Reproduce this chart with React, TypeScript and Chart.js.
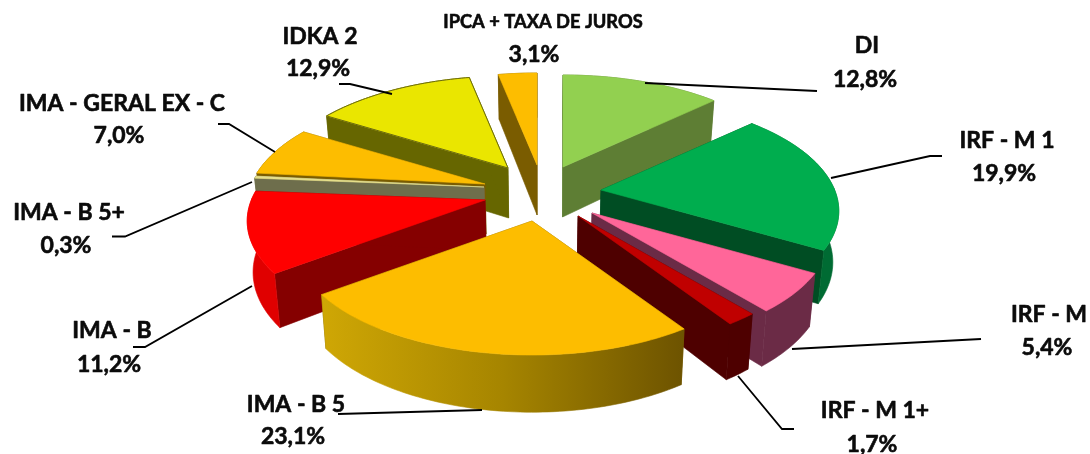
import React, { useEffect, useRef } from "react";
import { Chart, registerables } from "chart.js";

Chart.register(...registerables);

const categories = [
  "DI",
  "IRF - M 1",
  "IRF - M",
  "IRF - M 1+",
  "IMA - B 5",
  "IMA - B",
  "IMA - B 5+",
  "IMA - GERAL EX - C",
  "IDKA 2",
  "IPCA + TAXA DE JUROS",
];
const shares = [12.8, 19.9, 5.4, 1.7, 23.1, 11.2, 0.3, 7.0, 12.9, 3.1];

const topColors = ["#92D050", "#00AD4E", "#FF6699", "#C00000", "#FDBD00", "#FF0000", "#E6DF8A", "#FDBD00", "#EAE600", "#FDBD00"];
const cutColors = ["#5E7E34", "#004D23", "#6B2B46", "#4E0000", "#7A5C00", "#850000", "#6E6E4C", "#7A5C00", "#666600", "#7A5C00"];
const rimColors = ["#5E7E34", "#006B33", "#6B2B46", "#4E0000", "#B8950A", "#E00000", "#6E6E4C", "#7A5C00", "#666600", "#7A5C00"];

// explosion of each wedge from the pie centre, in px
const explodeX = [18, 56, 47, 33, -13, -60, -61, -60, -37, -8];
const explodeY = [-60, -37, -14, -11, -6, -27, -40, -43, -59, -62];
// painter's order, back to front
const drawOrder = [9, 0, 8, 7, 6, 5, 1, 2, 3, 4];

// label anchors: [name x, name y, value x, value y]
const labelBoxes = [
  [867, 46, 865, 80],
  [1007, 141, 1004, 174],
  [1049, 315, 1047, 348],
  [875, 411, 872, 445],
  [296, 405, 293, 437],
  [112, 331, 109, 365],
  [69, 213, 66, 246],
  [122, 104, 119, 136],
  [320, 37, 318, 69],
  [543, 22, 534, 55],
];
const leaderLines = [
  [[645, 83], [817, 91]],
  [[831, 178], [930, 156], [942, 156]],
  [[792, 349], [981, 339]],
  [[738, 376], [782, 429], [794, 429]],
  [[482, 410], [338, 414]],
  [[252, 286], [145, 347], [133, 347]],
  [[252, 182], [125, 236.5], [112, 236.5]],
  [[275, 152], [229, 124], [218, 124]],
  [[392, 94], [350, 84], [339, 84]],
];

const PERSPECTIVE = 0.2;
const RX_RATIO = 233 / 227;
const RY_RATIO = 108.5 / 227;
const DEPTH = 50;
const FONT = '"Lato", "Open Sans", sans-serif';

const pie3d = {
  id: "pie3d",
  beforeDatasetDraw() {
    return false;
  },
  afterDatasetsDraw(chart: any) {
    const ctx = chart.ctx as CanvasRenderingContext2D;
    const meta = chart.getDatasetMeta(0);
    const vanishX = 540;

    for (const i of drawOrder) {
      const el = meta.data[i].getProps(["x", "y", "startAngle", "endAngle", "outerRadius"]);
      const ax = el.x + explodeX[i];
      const ay = el.y + explodeY[i];
      const rx = el.outerRadius * RX_RATIO;
      const ry = el.outerRadius * RY_RATIO;
      const t0 = el.startAngle + Math.PI / 2;
      const t1 = el.endAngle + Math.PI / 2;

      const scaleAt = (t: number) => 1 / (1 + PERSPECTIVE * Math.cos(t));
      const rim = (t: number) => {
        const s = scaleAt(t);
        return { x: ax + rx * Math.sin(t) * s, y: ay - ry * Math.cos(t) * s - 1.6, s };
      };
      const drop = (p: { x: number; y: number; s: number }) => ({
        x: p.x - (p.x - vanishX) * 0.02,
        y: p.y + DEPTH * Math.pow(p.s, 0.6),
      });
      const apex = { x: ax, y: ay, s: 1 };

      const fillPoly = (pts: { x: number; y: number }[], fill: any) => {
        ctx.beginPath();
        pts.forEach((p, k) => (k ? ctx.lineTo(p.x, p.y) : ctx.moveTo(p.x, p.y)));
        ctx.closePath();
        ctx.fillStyle = fill;
        ctx.fill();
        ctx.strokeStyle = fill;
        ctx.lineWidth = 0.6;
        ctx.stroke();
      };
      const samples = (a: number, b: number) => {
        const out = [];
        const n = Math.max(2, Math.ceil(Math.abs(b - a) / 0.02));
        for (let k = 0; k <= n; k++) out.push(rim(a + ((b - a) * k) / n));
        return out;
      };
      const wall = (a: number, b: number, fill: any) => {
        if (b <= a) return;
        const top = samples(a, b);
        fillPoly([...top, ...top.slice().reverse().map(drop)], fill);
      };

      let rimFill: any = rimColors[i];
      if (i === 4) {
        const g = ctx.createLinearGradient(rim(t1).x, 0, rim(t0).x, 0);
        g.addColorStop(0, "#CFA705");
        g.addColorStop(0.5, "#A68500");
        g.addColorStop(1, "#6D5300");
        rimFill = g;
      }

      // back part of the rim, then cut faces, then front part of the rim
      const h0 = Math.PI / 2;
      const h1 = (3 * Math.PI) / 2;
      wall(t0, Math.min(t1, h0), rimColors[i]);
      wall(Math.max(t0, h1), t1, rimColors[i]);
      for (const t of [t0, t1]) {
        const p = rim(t);
        fillPoly([apex, p, drop(p), drop(apex)], cutColors[i]);
      }
      wall(Math.max(t0, h0), Math.min(t1, h1), rimFill);

      // top face
      const top = [apex, ...samples(t0, t1)];
      fillPoly(top, topColors[i]);
      if (i === 8) {
        ctx.beginPath();
        top.forEach((p, k) => (k ? ctx.lineTo(p.x, p.y) : ctx.moveTo(p.x, p.y)));
        ctx.closePath();
        ctx.strokeStyle = "#6A6A10";
        ctx.lineWidth = 1;
        ctx.stroke();
      }
    }

    // leader lines
    ctx.strokeStyle = "#000000";
    ctx.lineWidth = 1.8;
    for (const line of leaderLines) {
      ctx.beginPath();
      line.forEach(([x, y], k) => (k ? ctx.lineTo(x, y) : ctx.moveTo(x, y)));
      ctx.stroke();
    }

    // labels
    ctx.fillStyle = "#0B0B0B";
    ctx.strokeStyle = "#0B0B0B";
    ctx.lineWidth = 0.6;
    ctx.lineJoin = "round";
    ctx.textAlign = "center";
    ctx.textBaseline = "middle";
    const put = (text: string, x: number, y: number) => {
      ctx.fillText(text, x, y);
      ctx.strokeText(text, x, y);
    };
    chart.data.labels.forEach((name: string, i: number) => {
      const [nx, ny, vx, vy] = labelBoxes[i];
      ctx.font = `bold ${i === 9 ? 18.3 : 23}px ${FONT}`;
      put(name, nx, ny);
      ctx.font = `bold 23px ${FONT}`;
      put(shares[i].toFixed(1).replace(".", ",") + "%", vx, vy);
    });
  },
};

export default function App() {
  const ref = useRef<HTMLCanvasElement>(null);
  useEffect(() => {
    const chart = new Chart(ref.current as HTMLCanvasElement, {
      type: "pie",
      data: {
        labels: categories,
        datasets: [{ data: shares, backgroundColor: topColors, borderWidth: 0 }],
      },
      options: {
        animation: false,
        responsive: false,
        layout: { padding: 0 },
        plugins: { legend: { display: false }, tooltip: { enabled: false } },
      },
      plugins: [pie3d],
    } as any);
    return () => chart.destroy();
  }, []);
  return (
    <div style={{ position: "absolute", left: 0, top: 0, width: 1090, height: 454, background: "#fff" }}>
      <canvas ref={ref} width={1090} height={454} style={{ display: "block" }} />
    </div>
  );
}
